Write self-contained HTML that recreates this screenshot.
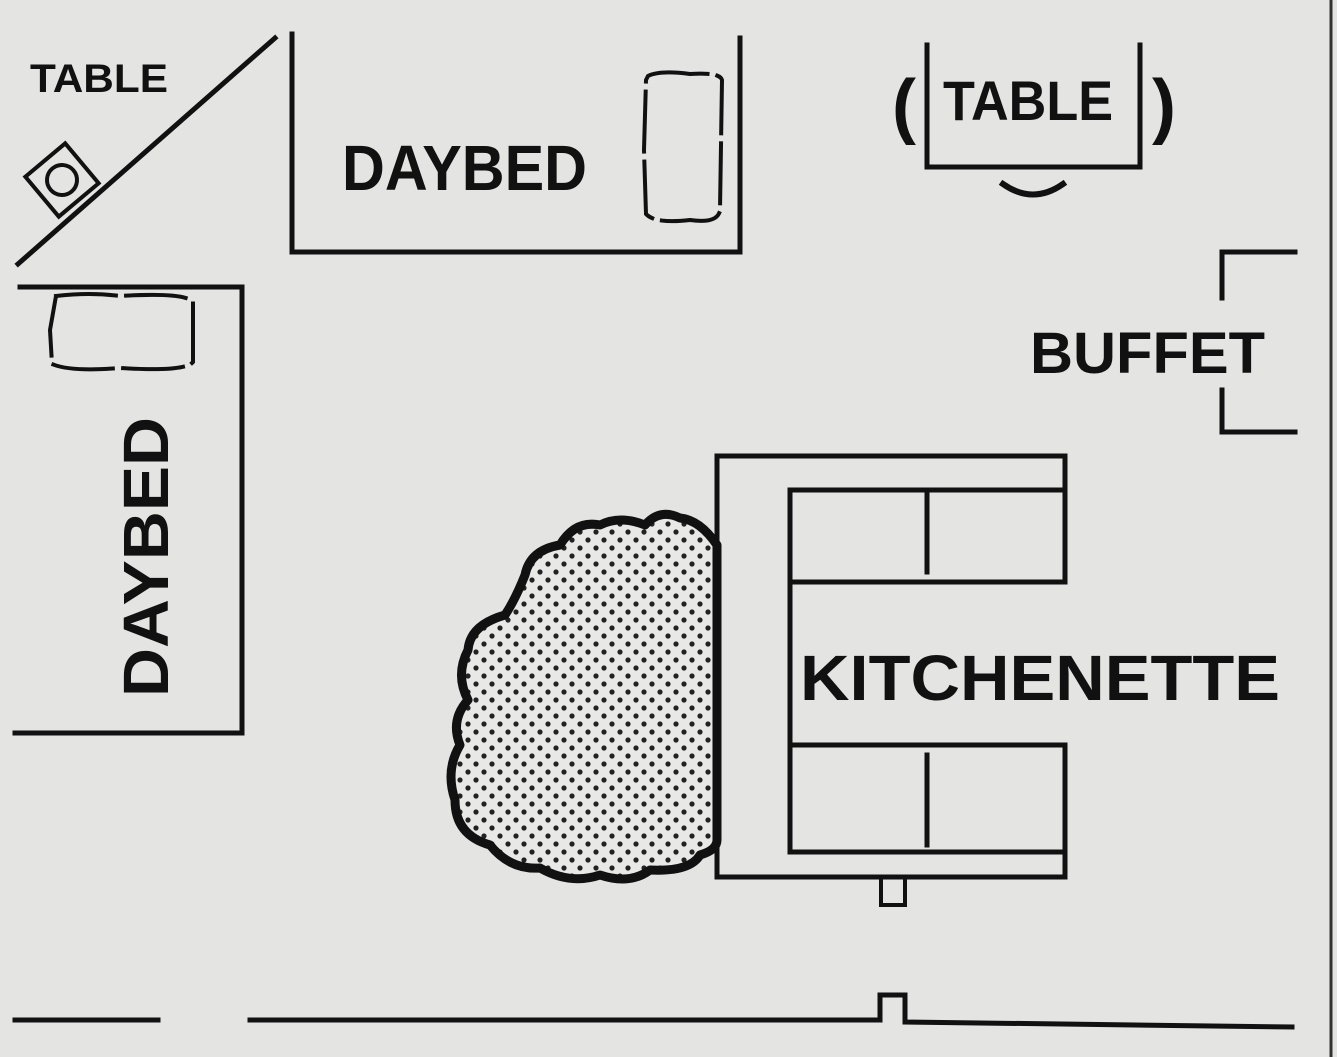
<!DOCTYPE html>
<html><head><meta charset="utf-8"><style>
html,body{margin:0;padding:0;background:#e4e4e2;}
svg{display:block}
text{font-family:"Liberation Sans",sans-serif;font-weight:bold;fill:#111}
</style></head><body>
<svg width="1337" height="1057" viewBox="0 0 1337 1057" xmlns="http://www.w3.org/2000/svg">
<defs>
<pattern id="dots" width="16" height="16" patternUnits="userSpaceOnUse">
<rect width="16" height="16" fill="#e8e8e6"/>
<circle cx="4" cy="4" r="2.6" fill="#222"/>
<circle cx="12" cy="12" r="2.6" fill="#222"/>
</pattern>
</defs>
<rect width="1337" height="1057" fill="#e4e4e2"/>
<line x1="1331" y1="0" x2="1331" y2="1057" stroke="#333" stroke-width="3"/>
<g stroke="#111" stroke-width="5" fill="none" stroke-linecap="square">
<line x1="18" y1="264" x2="275" y2="38"/>
<g transform="translate(62,180) rotate(-40)">
<rect x="-26" y="-26" width="52" height="52" stroke-width="4"/>
<circle cx="0" cy="0" r="15" stroke-width="4"/>
</g>
<polyline points="292,34 292,252 740,252 740,38"/>
<path d="M648,76 Q660,70 690,74 Q720,72 722,80 L720,210 Q718,224 690,220 Q655,224 646,214 L644,150 L646,80 Z" stroke-width="4" stroke-dasharray="60 10"/>
<polyline points="927,45 927,167 1140,167 1140,45"/>
<path d="M1003,184 Q1033,205 1063,184" stroke-width="6"/>
<polyline points="1295,252 1222,252 1222,298"/>
<polyline points="1222,390 1222,432 1295,432"/>
<polyline points="20,287 242,287 242,733 15,733"/>
<path d="M56,296 Q90,292 120,296 Q185,292 193,302 L193,362 Q185,372 120,368 Q70,372 52,364 L50,330 Z" stroke-width="4" stroke-dasharray="60 10"/>
<!-- kitchenette -->
<polyline points="1065,582 1065,456 717,456 717,877 1065,877 1065,745"/>
<polyline points="1065,490 790,490 790,852 1065,852"/>
<line x1="790" y1="582" x2="1065" y2="582"/>
<line x1="790" y1="745" x2="1065" y2="745"/>
<line x1="927" y1="492" x2="927" y2="572"/>
<line x1="927" y1="755" x2="927" y2="845"/>
<rect x="881" y="877" width="24" height="28" stroke-width="4"/>
<line x1="15" y1="1020" x2="158" y2="1020"/>
<polyline points="250,1020 880,1020 880,995 905,995 905,1022 1292,1027"/>
</g>
<path d="M717,545 Q700,520 680,518 Q660,508 645,525 Q620,515 600,525 Q575,520 560,545 Q530,550 525,575 Q515,600 505,615 Q470,625 468,650 Q455,675 468,700 Q450,720 460,745 Q445,770 455,800 Q455,835 490,845 Q510,870 540,868 Q570,885 600,875 Q630,885 650,870 Q690,872 700,855 Q717,850 717,840 Z" fill="url(#dots)" stroke="#111" stroke-width="9" stroke-linejoin="round"/>
<text x="30" y="92" font-size="40" textLength="138" lengthAdjust="spacingAndGlyphs">TABLE</text>
<text x="342" y="190" font-size="64" textLength="245" lengthAdjust="spacingAndGlyphs">DAYBED</text>
<text x="892" y="130" font-size="72" font-weight="normal">(</text>
<text x="943" y="120" font-size="56" textLength="170" lengthAdjust="spacingAndGlyphs">TABLE</text>
<text x="1152" y="130" font-size="72" font-weight="normal">)</text>
<text x="1030" y="373" font-size="58" textLength="235" lengthAdjust="spacingAndGlyphs">BUFFET</text>
<text transform="translate(168,697) rotate(-90)" font-size="64" textLength="280" lengthAdjust="spacingAndGlyphs">DAYBED</text>
<text x="800" y="700" font-size="64" textLength="480" lengthAdjust="spacingAndGlyphs">KITCHENETTE</text>
</svg>
</body></html>
